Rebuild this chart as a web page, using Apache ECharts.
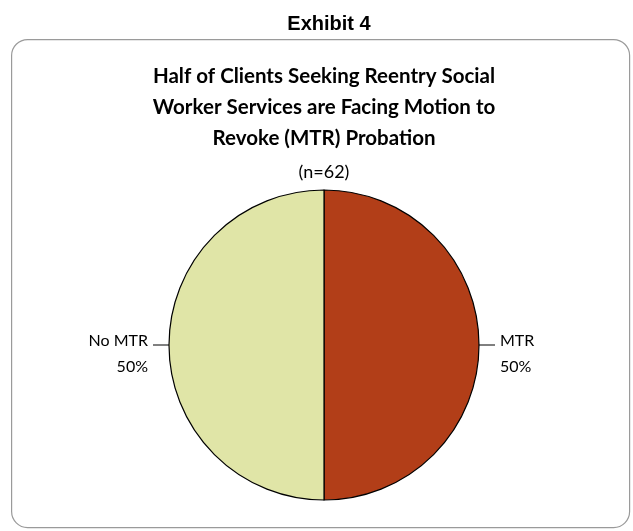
<!DOCTYPE html>
<html><head><meta charset="utf-8">
<script src="https://cdn.jsdelivr.net/npm/echarts@6/dist/echarts.min.js"></script>
<style>html,body{margin:0;padding:0;background:#fff}#c{width:633px;height:531px}</style>
</head><body><div id="c"></div>
<script>
const categories = ['MTR', 'No MTR'];
const values = [50, 50];
const colors = ['#B23E18', '#E0E5A7'];
const titleLines = [
  'Half of Clients Seeking Reentry Social',
  'Worker Services are Facing Motion to',
  'Revoke (MTR) Probation'
];

const titleStyle = { fontFamily: 'Lato', fontWeight: 'bold', fontSize: 20.5, color: '#000' };
const chart = echarts.init(document.getElementById('c'));
chart.setOption({
  animation: false,
  graphic: [{
    type: 'rect', left: 11, top: 39,
    shape: { width: 618, height: 488, r: 16 },
    style: { fill: '#fff', stroke: '#9a9a9a', lineWidth: 1.2 },
    z: -10
  }],
  title: [
    { text: 'Exhibit 4', left: 324, textAlign: 'center', top: 9,
      textStyle: { fontFamily: 'Liberation Sans', fontWeight: 'bold', fontSize: 20, color: '#000' } }
  ].concat(titleLines.map((t, i) => ({
      text: t, left: 324, textAlign: 'center', top: 66 + i * 31, padding: 0, textStyle: titleStyle
  }))).concat([
    { text: '(n=62)', left: 324, textAlign: 'center', top: 163, padding: 0,
      textStyle: { fontFamily: 'Lato', fontWeight: 'normal', fontSize: 18, color: '#000' } }
  ]),
  series: [{
    type: 'pie',
    center: [324, 345],
    radius: 155,
    startAngle: 90,
    clockwise: true,
    data: categories.map((c, i) => ({ name: c, value: values[i], itemStyle: { color: colors[i] } })),
    itemStyle: { borderColor: '#000', borderWidth: 1.2 },
    label: {
      show: true, position: 'outside', formatter: '{b}\n{d}%',
      fontFamily: 'Lato', fontSize: 16, color: '#000', lineHeight: 26, align: 'center'
    },
    labelLine: { show: true, length: 8, length2: 8, lineStyle: { color: '#000', width: 1 } },
    labelLayout: { dy: 9 },
    emphasis: { disabled: true }
  }]
});
</script></body></html>
